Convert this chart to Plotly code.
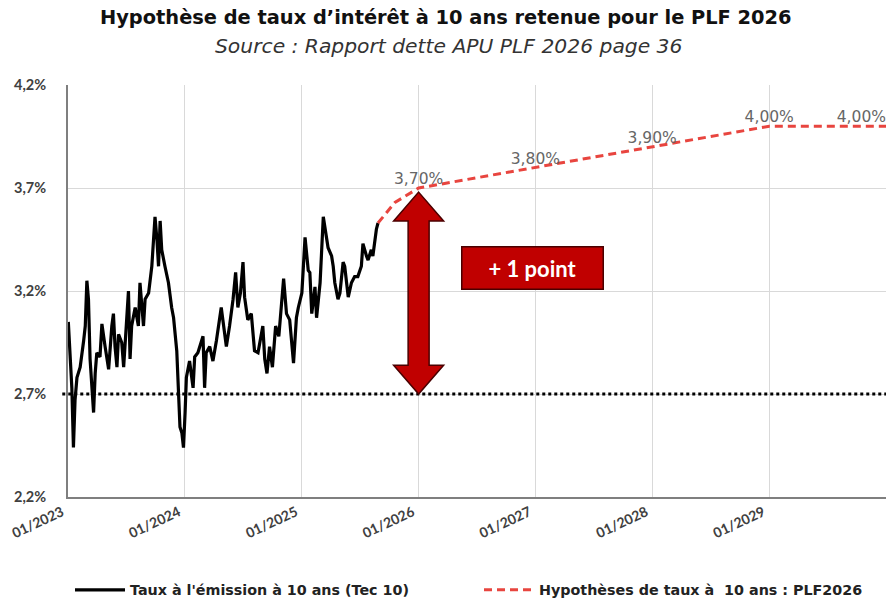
import plotly.graph_objects as go

# ---------------- data ----------------
tec10_dates = [
    "2023-01-02", "2023-01-08", "2023-01-13", "2023-01-18", "2023-01-23", "2023-01-29",
    "2023-02-08", "2023-02-19", "2023-02-24", "2023-03-01", "2023-03-06", "2023-03-11",
    "2023-03-22", "2023-03-27", "2023-04-01", "2023-04-11", "2023-04-17", "2023-04-27",
    "2023-05-08", "2023-05-18", "2023-05-23", "2023-05-28", "2023-06-03", "2023-06-08",
    "2023-06-18", "2023-06-24", "2023-06-29", "2023-07-09", "2023-07-14", "2023-07-19",
    "2023-07-30", "2023-08-09", "2023-08-14", "2023-08-25", "2023-08-30", "2023-09-10",
    "2023-09-20", "2023-09-30", "2023-10-06", "2023-10-11", "2023-10-16", "2023-10-21",
    "2023-10-31", "2023-11-11", "2023-11-21", "2023-11-27", "2023-12-07", "2023-12-12",
    "2023-12-17", "2023-12-23", "2023-12-28", "2024-01-02", "2024-01-06", "2024-01-16",
    "2024-01-27", "2024-02-01", "2024-02-11", "2024-02-27", "2024-03-03", "2024-03-08",
    "2024-03-19", "2024-03-29", "2024-04-09", "2024-04-24", "2024-05-05", "2024-05-10",
    "2024-05-20", "2024-05-31", "2024-06-08", "2024-06-15", "2024-06-23", "2024-07-01",
    "2024-07-06", "2024-07-16", "2024-07-27", "2024-08-06", "2024-08-17", "2024-09-01",
    "2024-09-07", "2024-09-14", "2024-09-22", "2024-10-01", "2024-10-11", "2024-10-21",
    "2024-11-05", "2024-11-14", "2024-11-24", "2024-12-06", "2024-12-15", "2024-12-21",
    "2025-01-01", "2025-01-11", "2025-01-21", "2025-01-26", "2025-02-01", "2025-02-06",
    "2025-02-11", "2025-02-16", "2025-02-21", "2025-02-27", "2025-03-09", "2025-03-14",
    "2025-03-19", "2025-03-24", "2025-04-04", "2025-04-09", "2025-04-14", "2025-04-24",
    "2025-04-30", "2025-05-10", "2025-05-15", "2025-05-21", "2025-05-26", "2025-06-05",
    "2025-06-15", "2025-06-25", "2025-07-06", "2025-07-11", "2025-07-16", "2025-07-22",
    "2025-07-27", "2025-08-06", "2025-08-11", "2025-08-17", "2025-08-22", "2025-08-27",
]
tec10_values = [
    3.05, 2.83, 2.73, 2.44, 2.67, 2.78,
    2.83, 2.96, 3.03, 3.25, 3.16, 2.87,
    2.61, 2.80, 2.90, 2.88, 3.04, 2.93,
    2.82, 3.03, 3.09, 2.93, 2.83, 2.99,
    2.95, 2.83, 2.96, 3.20, 2.87, 3.03,
    3.12, 3.03, 3.24, 3.03, 3.16, 3.19,
    3.32, 3.56, 3.45, 3.32, 3.54, 3.40,
    3.32, 3.24, 3.12, 3.07, 2.91, 2.73,
    2.54, 2.51, 2.44, 2.61, 2.78, 2.86,
    2.73, 2.88, 2.90, 2.98, 2.73, 2.90,
    2.93, 2.86, 2.96, 3.12, 2.99, 2.93,
    3.03, 3.16, 3.29, 3.12, 3.19, 3.34,
    3.17, 3.06, 3.09, 2.91, 2.90, 3.03,
    2.87, 2.80, 2.93, 2.83, 3.03, 2.98,
    3.26, 3.09, 3.06, 2.85, 3.07, 3.12,
    3.19, 3.46, 3.30, 3.29, 3.09, 3.17,
    3.22, 3.07, 3.16, 3.24, 3.56, 3.51,
    3.48, 3.41, 3.37, 3.32, 3.24, 3.16,
    3.19, 3.34, 3.32, 3.22, 3.17, 3.24,
    3.27, 3.27, 3.32, 3.43, 3.40, 3.37,
    3.35, 3.40, 3.37, 3.46, 3.50, 3.53,
]

plf_dates = ["2025-08-27", "2025-10-19", "2026-01-01", "2027-01-01", "2028-01-01", "2029-01-01", "2030-01-01"]
plf_values = [3.53, 3.63, 3.70, 3.80, 3.90, 4.00, 4.00]
plf_labels = ["", "", "3,70%", "3,80%", "3,90%", "4,00%", "4,00%"]
plf_label_pos = ["top center", "top center", "top center", "top center", "top center", "top center", "top left"]

reference_level = 2.7
arrow_top = 3.68
arrow_bottom = 2.70

y_tickvals = [2.2, 2.7, 3.2, 3.7, 4.2]
y_ticktext = ["2,2%", "2,7%", "3,2%", "3,7%", "4,2%"]
x_tickvals = ["2023-01-01", "2024-01-01", "2025-01-01", "2026-01-01", "2027-01-01",
              "2028-01-01", "2029-01-01", "2030-01-01"]
x_ticktext = ["01/2023", "01/2024", "01/2025", "01/2026", "01/2027", "01/2028", "01/2029", ""]

title_text = "Hypothèse de taux d’intérêt à 10 ans retenue pour le PLF 2026"
subtitle_text = "Source : Rapport dette APU PLF 2026 page 36"
box_text = "+ 1 point"

# ---------------- figure ----------------
WIDE = "DejaVu Sans, sans-serif"
LATO = "Lato, Open Sans, sans-serif"

fig = go.Figure()

fig.add_trace(go.Scatter(
    x=tec10_dates, y=tec10_values, mode="lines",
    name="Taux à l'émission à 10 ans (Tec 10)",
    line=dict(color="#000000", width=3.2),
    legendwidth=344,
))

fig.add_trace(go.Scatter(
    x=plf_dates, y=plf_values, mode="lines+text",
    name="Hypothèses de taux à  10 ans : PLF2026",
    text=plf_labels, textposition=plf_label_pos,
    textfont=dict(family=WIDE, size=15.5, color="#666666"),
    line=dict(color="#e8453f", width=3, dash="8px,5px"),
    cliponaxis=False,
))

# dotted reference line
fig.add_shape(type="line", xref="paper", x0=-0.007, x1=1.0, yref="y",
              y0=reference_level, y1=reference_level,
              line=dict(color="#000000", width=3, dash="dot"), layer="above")

# double-headed arrow (x in pixels around 01/2026, y in data units)
hh = 0.14
top_base = arrow_top - hh
bot_base = arrow_bottom + hh
path = (f"M0,{arrow_top} L25,{top_base} L10.5,{top_base} L10.5,{bot_base} L25,{bot_base} "
        f"L0,{arrow_bottom} L-25,{bot_base} L-10.5,{bot_base} L-10.5,{top_base} L-25,{top_base} Z")
fig.add_shape(type="path", path=path, xsizemode="pixel", xanchor="2026-01-01",
              xref="x", yref="y", fillcolor="#c00000",
              line=dict(color="#4a0000", width=1.5), layer="above")

fig.add_annotation(x="2026-12-22", y=3.31, xref="x", yref="y", text=f"<b>{box_text}</b>",
                   showarrow=False, font=dict(family=LATO, size=22, color="#ffffff"),
                   bgcolor="#c00000", bordercolor="#4a0000", borderwidth=1.5,
                   width=138, height=39, borderpad=1)

fig.add_annotation(x=(446 - 68) / 818, y=(497 - 18) / 412, xref="paper", yref="paper",
                   text=f"<b>{title_text}</b>",
                   showarrow=False, font=dict(family=WIDE, size=19.4, color="#111111"),
                   xanchor="center", yanchor="middle")
fig.add_annotation(x=(448 - 68) / 818, y=(497 - 46) / 412, xref="paper", yref="paper",
                   text=f"<i>{subtitle_text}</i>",
                   showarrow=False, font=dict(family=WIDE, size=20.3, color="#333333"),
                   xanchor="center", yanchor="middle")

fig.update_layout(
    width=889, height=607,
    margin=dict(l=68, r=3, t=85, b=110, autoexpand=False),
    paper_bgcolor="#ffffff", plot_bgcolor="#ffffff",
    showlegend=True,
    legend=dict(orientation="h", xref="container", yref="container",
                x=70 / 889, xanchor="left", y=17 / 607, yanchor="middle",
                itemwidth=50,
                font=dict(family=WIDE, size=14.3, color="#222222", weight="bold"),
                bgcolor="rgba(0,0,0,0)"),
    xaxis=dict(type="date", range=["2023-01-01", "2030-01-01"], automargin=False,
               tickmode="array", tickvals=x_tickvals, ticktext=x_ticktext,
               tickangle=-25, ticklabelshift=-6,
               showgrid=True, gridcolor="#d9d9d9", gridwidth=1,
               showline=True, linecolor="#7f7f7f", linewidth=2, zeroline=False,
               tickfont=dict(family=LATO, size=14, color="#404040", weight="bold")),
    yaxis=dict(range=[2.2, 4.2], tickmode="array", tickvals=y_tickvals, ticktext=y_ticktext,
               automargin=False,
               showgrid=True, gridcolor="#d9d9d9", gridwidth=1,
               showline=True, linecolor="#7f7f7f", linewidth=2, zeroline=False,
               ticklabelstandoff=17,
               tickfont=dict(family=LATO, size=14.5, color="#404040", weight="bold")),
)

fig.write_html("out.html", config={"displayModeBar": False},
               post_script="document.body.style.margin='0';")
